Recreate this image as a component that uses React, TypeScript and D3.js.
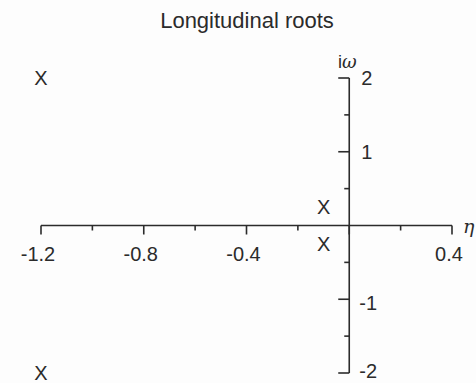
import React from "react";
import * as d3 from "d3";

// Roots of the longitudinal characteristic equation (real part η, imaginary part ω)
const rootEta = [-1.2, -1.2, -0.1, -0.1];
const rootOmega = [2, -2, 0.25, -0.25];

// Axis ticks
const etaMajorTicks = [-1.2, -0.8, -0.4, 0, 0.4];
const etaMinorTicks = [-1.0, -0.6, -0.2, 0.2];
const etaTickLabels = ["-1.2", "-0.8", "-0.4", "0.4"];
const etaLabelValues = [-1.2, -0.8, -0.4, 0.4];
const omegaMajorTicks = [-2, -1, 1, 2];
const omegaMinorTicks = [-1.5, -0.5, 0.5, 1.5];
const omegaTickLabels = ["-2", "-1", "1", "2"];

const W = 476;
const H = 383;
const ink = "#2b2b2b";
const font = "'Liberation Sans', Arial, Helvetica, sans-serif";
const serif = "'DejaVu Serif', 'Liberation Serif', serif";

export default function App() {
  const x = d3.scaleLinear().domain([-1.2, 0.4]).range([41, 452]);
  const y = d3.scaleLinear().domain([-2, 2]).range([373, 78]);
  const x0 = x(0);
  const y0 = y(0);

  return (
    <svg
      width={W}
      height={H}
      viewBox={`0 0 ${W} ${H}`}
      style={{ position: "absolute", left: 0, top: 0, background: "#fdfdfd" }}
    >
      <text x={247} y={28} textAnchor="middle" fontFamily={font} fontSize={22} fill={ink}>
        Longitudinal roots
      </text>

      {/* real axis */}
      <line x1={x(-1.2)} x2={x(0.4)} y1={y0} y2={y0} stroke={ink} strokeWidth={1.6} />
      {etaMajorTicks.map((v) => (
        <line key={"xM" + v} x1={x(v)} x2={x(v)} y1={y0} y2={y0 + 9} stroke={ink} strokeWidth={1.6} />
      ))}
      {etaMinorTicks.map((v) => (
        <line key={"xm" + v} x1={x(v)} x2={x(v)} y1={y0} y2={y0 + 5} stroke={ink} strokeWidth={1.6} />
      ))}
      {etaLabelValues.map((v, i) => (
        <text key={"xl" + v} x={x(v) - 3} y={y0 + 35} textAnchor="middle" fontFamily={font} fontSize={20} fill={ink}>
          {etaTickLabels[i]}
        </text>
      ))}
      <text x={x(0.4) + 11} y={y0 + 7} fontFamily={serif} fontStyle="italic" fontSize={19} fill={ink}>
        η
      </text>

      {/* imaginary axis */}
      <line x1={x0} x2={x0} y1={y(2)} y2={y(-2)} stroke={ink} strokeWidth={1.6} />
      {omegaMajorTicks.map((v) => (
        <line key={"yM" + v} x1={x0 - 11} x2={x0} y1={y(v)} y2={y(v)} stroke={ink} strokeWidth={1.6} />
      ))}
      {omegaMinorTicks.map((v) => (
        <line key={"ym" + v} x1={x0 - 5} x2={x0} y1={y(v)} y2={y(v)} stroke={ink} strokeWidth={1.6} />
      ))}
      {omegaMajorTicks.map((v, i) => (
        <text
          key={"yl" + v}
          x={v < 0 ? x0 + 10 : x0 + 12}
          y={y(v) + (v === -2 ? 5 : v < 0 ? 11 : 7)}
          fontFamily={font}
          fontSize={20}
          fill={ink}
        >
          {omegaTickLabels[i]}
        </text>
      ))}
      <text x={x0 - 2} y={y(2) - 10} textAnchor="middle" fontFamily={font} fontSize={18} fill={ink}>
        i<tspan fontFamily={serif} fontStyle="italic">ω</tspan>
      </text>

      {/* roots */}
      {rootEta.map((eta, i) => (
        <text
          key={"r" + i}
          x={x(eta)}
          y={y(rootOmega[i]) + 7}
          textAnchor="middle"
          fontFamily={font}
          fontSize={20}
          fill={ink}
        >
          X
        </text>
      ))}
    </svg>
  );
}
